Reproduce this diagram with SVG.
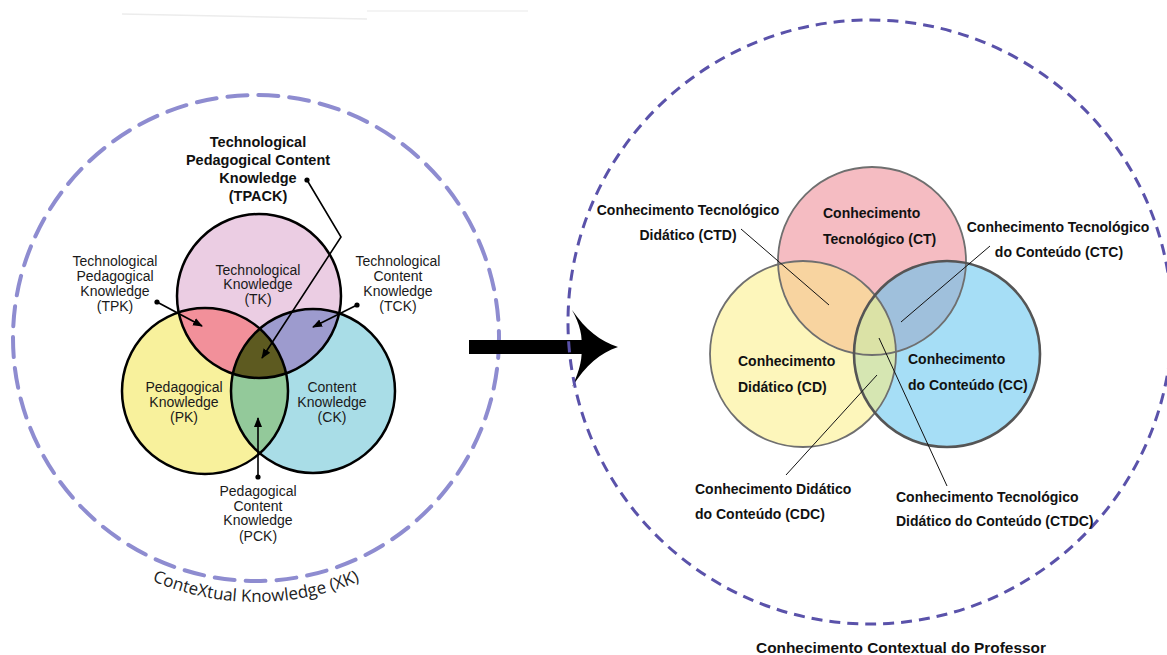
<svg xmlns="http://www.w3.org/2000/svg" width="1167" height="655" viewBox="0 0 1167 655">
<style>
.lbl{font-family:"Liberation Sans",Arial,sans-serif;font-size:14px;fill:#1a1a1a;text-anchor:middle}
.lblb{font-family:"Liberation Sans",Arial,sans-serif;font-size:14.5px;font-weight:bold;fill:#111;text-anchor:middle}
.pt{font-family:"Liberation Sans",Arial,sans-serif;font-size:14px;font-weight:bold;fill:#111}
.ptc{font-family:"Liberation Sans",Arial,sans-serif;font-size:14px;font-weight:bold;fill:#111;text-anchor:middle}
.vl{stroke:#000;stroke-width:2.5}
.vr{stroke:#6f6f6f;stroke-width:1.8}
.ptr{stroke:#000;stroke-width:1.6;fill:none}
.thin{stroke:#111;stroke-width:1;fill:none}
</style>
<defs>
<marker id="dot" viewBox="0 0 6 6" refX="3" refY="3" markerWidth="6" markerHeight="6" markerUnits="userSpaceOnUse"><circle cx="3" cy="3" r="2.6" fill="#000"/></marker>
<marker id="arr" viewBox="0 0 10 10" refX="9" refY="5" markerWidth="10" markerHeight="10" markerUnits="userSpaceOnUse" orient="auto"><path d="M0,1 L10,5 L0,9 Z" fill="#000"/></marker>
<clipPath id="cTK"><circle cx="259" cy="296" r="82"/></clipPath>
<clipPath id="cPK"><circle cx="205" cy="391" r="83"/></clipPath>
<clipPath id="cCK"><circle cx="313" cy="391" r="82"/></clipPath>
<clipPath id="cCT"><circle cx="872" cy="261" r="94"/></clipPath>
<clipPath id="cCD"><circle cx="803" cy="354" r="93"/></clipPath>
<clipPath id="cCC"><circle cx="947" cy="354" r="93"/></clipPath>
<path id="xkArc" d="M -8,338 A 264 264 0 0 0 520,338"/>
</defs>
<rect width="1167" height="655" fill="#fff"/>
<line x1="122" y1="14" x2="367" y2="19" stroke="#ececec" stroke-width="1.5"/>
<line x1="367" y1="11" x2="528" y2="11" stroke="#f0f0f0" stroke-width="1.5"/>

<!-- LEFT: TPACK -->
<g id="xk-context">
<circle cx="256" cy="338" r="243" fill="none" stroke="#8e8cd0" stroke-width="4" stroke-dasharray="20 11" stroke-linecap="round"/>
<text font-family="'Open Sans','DejaVu Sans',sans-serif" font-size="17" fill="#222"><textPath href="#xkArc" startOffset="50%" text-anchor="middle">ConteXtual Knowledge (XK)</textPath></text>
</g>
<g id="tk"><circle cx="259" cy="296" r="82" fill="#ebcde3"/></g>
<g id="pk"><circle cx="205" cy="391" r="83" fill="#f8f19c"/></g>
<g id="ck"><circle cx="313" cy="391" r="82" fill="#a9dde7"/></g>
<g id="tpk"><circle cx="205" cy="391" r="83" fill="#f2909a" clip-path="url(#cTK)"/></g>
<g id="tck"><circle cx="313" cy="391" r="82" fill="#9d9bce" clip-path="url(#cTK)"/></g>
<g id="pck"><circle cx="313" cy="391" r="82" fill="#93c99a" clip-path="url(#cPK)"/></g>
<g id="tpack"><g clip-path="url(#cTK)"><circle cx="313" cy="391" r="82" fill="#5d5a20" clip-path="url(#cPK)"/></g></g>
<g id="left-outlines" fill="none">
<circle class="vl" cx="259" cy="296" r="82"/>
<circle class="vl" cx="205" cy="391" r="83"/>
<circle class="vl" cx="313" cy="391" r="82"/>
</g>
<g id="left-labels">
<text class="lbl"><tspan x="258" y="275">Technological</tspan><tspan x="258" y="289">Knowledge</tspan><tspan x="258" y="304">(TK)</tspan></text>
<text class="lbl"><tspan x="184" y="392">Pedagogical</tspan><tspan x="184" y="407">Knowledge</tspan><tspan x="184" y="422">(PK)</tspan></text>
<text class="lbl"><tspan x="332" y="392">Content</tspan><tspan x="332" y="407">Knowledge</tspan><tspan x="332" y="422">(CK)</tspan></text>
<text class="lbl"><tspan x="115" y="266">Technological</tspan><tspan x="115" y="281">Pedagogical</tspan><tspan x="115" y="296">Knowledge</tspan><tspan x="115" y="311">(TPK)</tspan></text>
<text class="lbl"><tspan x="398" y="266">Technological</tspan><tspan x="398" y="281">Content</tspan><tspan x="398" y="296">Knowledge</tspan><tspan x="398" y="311">(TCK)</tspan></text>
<text class="lbl"><tspan x="258" y="496">Pedagogical</tspan><tspan x="258" y="511">Content</tspan><tspan x="258" y="525">Knowledge</tspan><tspan x="258" y="541">(PCK)</tspan></text>
<text class="lblb"><tspan x="258" y="147">Technological</tspan><tspan x="258" y="165">Pedagogical Content</tspan><tspan x="258" y="183">Knowledge</tspan><tspan x="258" y="201">(TPACK)</tspan></text>
</g>
<g id="left-connectors">
<polyline class="ptr" points="307,180 341,237 262,358" marker-start="url(#dot)" marker-end="url(#arr)"/>
<line class="ptr" x1="157" y1="302" x2="202" y2="326" marker-start="url(#dot)" marker-end="url(#arr)"/>
<line class="ptr" x1="357" y1="305" x2="313" y2="327" marker-start="url(#dot)" marker-end="url(#arr)"/>
<line class="ptr" x1="258" y1="477" x2="258" y2="418" marker-start="url(#dot)" marker-end="url(#arr)"/>
</g>

<!-- Big arrow -->
<g id="big-arrow">
<rect x="469" y="340" width="113" height="14" fill="#000"/>
<path d="M572,310 C586,330 600,341 618,347 C600,353 586,365 572,387 C580,370 583,356 581,347 C583,338 580,324 572,310 Z" fill="#000"/>
</g>

<!-- RIGHT -->
<g id="ctx-professor">
<circle cx="870" cy="322" r="302" fill="none" stroke="#5a52aa" stroke-width="3" stroke-dasharray="11 7"/>
<text class="ptc" x="901" y="653" style="font-size:15.4px">Conhecimento Contextual do Professor</text>
</g>
<g id="ct"><circle cx="872" cy="261" r="94" fill="#f5bcc2"/></g>
<g id="cd"><circle cx="803" cy="354" r="93" fill="#fdf6bb"/></g>
<g id="cc"><circle cx="947" cy="354" r="93" fill="#a6def6"/></g>
<g id="ctd"><circle cx="803" cy="354" r="93" fill="#f8d4a0" clip-path="url(#cCT)"/></g>
<g id="ctc"><circle cx="947" cy="354" r="93" fill="#9fc0dc" clip-path="url(#cCT)"/></g>
<g id="cdc"><circle cx="947" cy="354" r="93" fill="#d6e6b2" clip-path="url(#cCD)"/></g>
<g id="ctdc"><g clip-path="url(#cCT)"><circle cx="947" cy="354" r="93" fill="#dbe2a6" clip-path="url(#cCD)"/></g></g>
<g id="right-outlines" fill="none">
<circle class="vr" cx="872" cy="261" r="94"/>
<circle class="vr" cx="803" cy="354" r="93"/>
<circle cx="947" cy="354" r="93" stroke="#555" stroke-width="2.6"/>
</g>
<g id="right-labels">
<text class="pt"><tspan x="823" y="218">Conhecimento</tspan><tspan x="823" y="244">Tecnológico (CT)</tspan></text>
<text class="pt"><tspan x="738" y="366">Conhecimento</tspan><tspan x="738" y="392">Didático (CD)</tspan></text>
<text class="pt"><tspan x="908" y="364">Conhecimento</tspan><tspan x="908" y="390">do Conteúdo (CC)</tspan></text>
<text class="ptc"><tspan x="688" y="215">Conhecimento Tecnológico</tspan><tspan x="688" y="240">Didático (CTD)</tspan></text>
<text class="ptc"><tspan x="1058" y="232">Conhecimento Tecnológico</tspan><tspan x="1059" y="257">do Conteúdo (CTC)</tspan></text>
<text class="pt"><tspan x="695" y="494">Conhecimento Didático</tspan><tspan x="695" y="519">do Conteúdo (CDC)</tspan></text>
<text class="pt"><tspan x="896" y="502">Conhecimento Tecnológico</tspan><tspan x="896" y="526">Didático do Conteúdo (CTDC)</tspan></text>
</g>
<g id="right-connectors">
<line class="thin" x1="741" y1="229" x2="829" y2="305"/>
<line class="thin" x1="990" y1="246" x2="901" y2="322"/>
<line class="thin" x1="877" y1="375" x2="786" y2="475"/>
<line class="thin" x1="879" y1="338" x2="947" y2="486"/>
</g>
</svg>
